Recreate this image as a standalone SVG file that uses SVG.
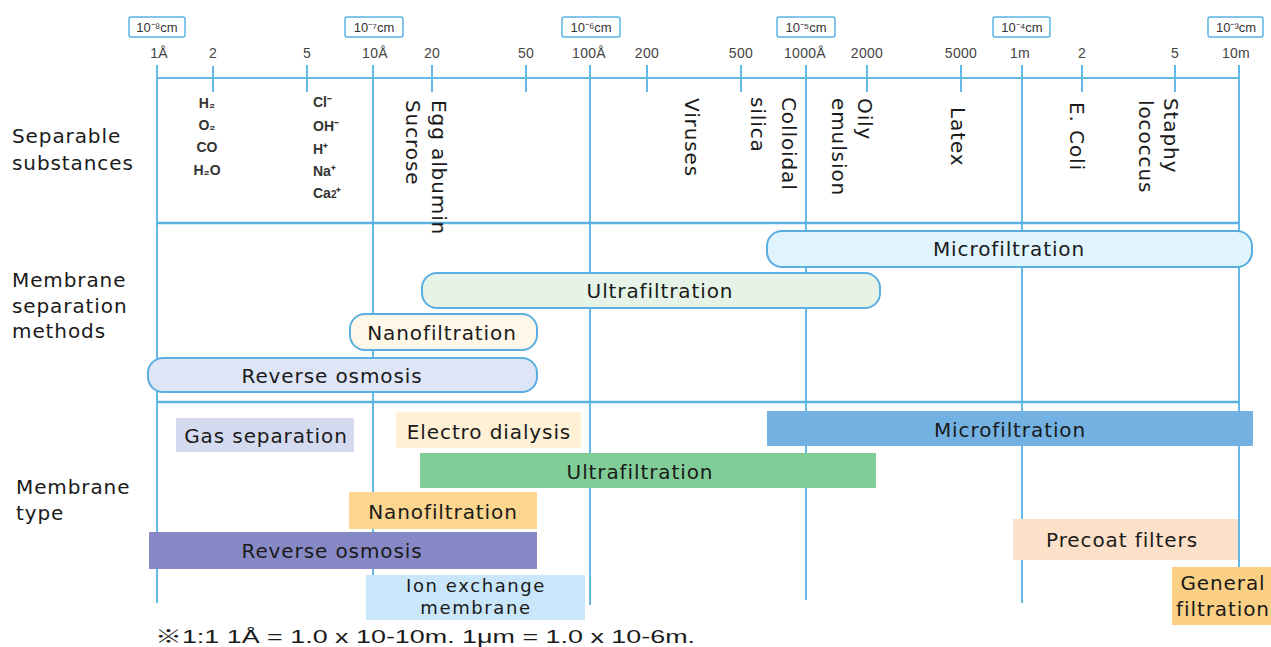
<svg xmlns="http://www.w3.org/2000/svg" width="1271" height="647" viewBox="0 0 1271 647">
<style>
.grid{stroke:#66b9e6;stroke-width:2;fill:none}
.sep{stroke:#5cb2e4;stroke-width:2.5;fill:none}
.tk{font-family:"Liberation Sans",Arial,sans-serif;font-size:14px;fill:#444;text-anchor:middle;letter-spacing:0.3px}
.ub{fill:#fff;stroke:#5ab4e6;stroke-width:1.5}
.ut{font-family:"Liberation Sans",Arial,sans-serif;font-size:13px;fill:#333;text-anchor:middle}
.lbl{font-family:"DejaVu Sans","Liberation Sans",sans-serif;font-size:20px;fill:#1a1a1a;letter-spacing:0.9px}
.c{text-anchor:middle}
.chem{font-family:"Liberation Sans",Arial,sans-serif;font-size:14px;font-weight:bold;fill:#333}
.mb{stroke:#5aaee2;stroke-width:2}
</style>
<rect width="1271" height="647" fill="#fff"/>

<g id="axis">
  <line class="grid" x1="157" y1="78" x2="1239" y2="78"/>
  <line class="grid" x1="157" y1="65" x2="157" y2="603"/>
  <line class="grid" x1="373" y1="65" x2="373" y2="600"/>
  <line class="grid" x1="590" y1="65" x2="590" y2="605"/>
  <line class="grid" x1="806" y1="65" x2="806" y2="600"/>
  <line class="grid" x1="1022" y1="65" x2="1022" y2="603"/>
  <line class="grid" x1="1239" y1="65" x2="1239" y2="567"/>
  <g class="grid">
    <line x1="213" y1="66" x2="213" y2="92"/>
    <line x1="307" y1="65" x2="307" y2="92"/>
    <line x1="432" y1="65" x2="432" y2="92"/>
    <line x1="526" y1="65" x2="526" y2="92"/>
    <line x1="647" y1="65" x2="647" y2="92"/>
    <line x1="741" y1="65" x2="741" y2="92"/>
    <line x1="867" y1="65" x2="867" y2="92"/>
    <line x1="961" y1="65" x2="961" y2="92"/>
    <line x1="1082" y1="65" x2="1082" y2="92"/>
    <line x1="1175" y1="65" x2="1175" y2="92"/>
  </g>
  <line class="sep" x1="157" y1="223" x2="1239" y2="223"/>
  <line class="sep" x1="157" y1="402" x2="1239" y2="402"/>
  <g>
    <text class="tk" x="159" y="58">1Å</text>
    <text class="tk" x="213" y="58">2</text>
    <text class="tk" x="307" y="58">5</text>
    <text class="tk" x="375" y="58">10Å</text>
    <text class="tk" x="432" y="58">20</text>
    <text class="tk" x="526" y="58">50</text>
    <text class="tk" x="589" y="58">100Å</text>
    <text class="tk" x="647" y="58">200</text>
    <text class="tk" x="741" y="58">500</text>
    <text class="tk" x="805" y="58">1000Å</text>
    <text class="tk" x="867" y="58">2000</text>
    <text class="tk" x="961" y="58">5000</text>
    <text class="tk" x="1020" y="58">1m</text>
    <text class="tk" x="1082" y="58">2</text>
    <text class="tk" x="1175" y="58">5</text>
    <text class="tk" x="1236" y="58">10m</text>
  </g>
  <g>
    <rect class="ub" x="129" y="17" width="56" height="20" rx="2"/>
    <text class="ut" x="157" y="32">10⁻⁸cm</text>
    <rect class="ub" x="345" y="17" width="58" height="20" rx="2"/>
    <text class="ut" x="374" y="32">10⁻⁷cm</text>
    <rect class="ub" x="562" y="17" width="58" height="20" rx="2"/>
    <text class="ut" x="591" y="32">10⁻⁶cm</text>
    <rect class="ub" x="777" y="17" width="58" height="20" rx="2"/>
    <text class="ut" x="806" y="32">10⁻⁵cm</text>
    <rect class="ub" x="993" y="17" width="57" height="20" rx="2"/>
    <text class="ut" x="1022" y="32">10⁻⁴cm</text>
    <rect class="ub" x="1208" y="17" width="55" height="20" rx="2"/>
    <text class="ut" x="1236" y="32">10⁻³cm</text>
  </g>
</g>

<g id="row-labels">
  <text class="lbl" x="12" y="143">Separable</text>
  <text class="lbl" x="12" y="170">substances</text>
  <text class="lbl" x="12" y="287">Membrane</text>
  <text class="lbl" x="12" y="313">separation</text>
  <text class="lbl" x="12" y="338">methods</text>
  <text class="lbl" x="16" y="494">Membrane</text>
  <text class="lbl" x="16" y="520">type</text>
</g>

<g id="substances">
  <g class="chem" text-anchor="middle">
    <text x="207" y="108">H₂</text>
    <text x="207" y="130">O₂</text>
    <text x="207" y="152">CO</text>
    <text x="207" y="175">H₂O</text>
  </g>
  <g class="chem">
    <text x="313" y="107">Cl⁻</text>
    <text x="313" y="131">OH⁻</text>
    <text x="313" y="154">H⁺</text>
    <text x="313" y="176">Na⁺</text>
    <text x="313" y="198">Ca<tspan font-size="10px">2</tspan>⁺</text>
  </g>
  <text class="lbl" transform="translate(432,100) rotate(90)">Egg albumin</text>
  <text class="lbl" transform="translate(406,100) rotate(90)">Sucrose</text>
  <text class="lbl" transform="translate(685,98) rotate(90)">Viruses</text>
  <text class="lbl" transform="translate(782,97) rotate(90)">Colloidal</text>
  <text class="lbl" transform="translate(751,97) rotate(90)">silica</text>
  <text class="lbl" transform="translate(858,98) rotate(90)">Oily</text>
  <text class="lbl" transform="translate(832,98) rotate(90)">emulsion</text>
  <text class="lbl" transform="translate(951,107) rotate(90)">Latex</text>
  <text class="lbl" transform="translate(1070,102) rotate(90)">E. Coli</text>
  <text class="lbl" transform="translate(1164,98) rotate(90)">Staphy</text>
  <text class="lbl" transform="translate(1139,100) rotate(90)">lococcus</text>
</g>

<g id="methods">
  <g id="m-micro"><rect class="mb" x="767" y="231" width="485" height="36" rx="15" fill="#dff4fd"/><text class="lbl c" x="1009" y="256">Microfiltration</text></g>
  <g id="m-ultra"><rect class="mb" x="422" y="273" width="458" height="35" rx="15" fill="#e5f4e6"/><text class="lbl c" x="660" y="298">Ultrafiltration</text></g>
  <g id="m-nano"><rect class="mb" x="350" y="314" width="187" height="36" rx="15" fill="#fff8e8"/><text class="lbl c" x="442" y="340">Nanofiltration</text></g>
  <g id="m-ro"><rect class="mb" x="148" y="358" width="389" height="34" rx="15" fill="#dde5f6"/><text class="lbl c" x="332" y="383">Reverse osmosis</text></g>
</g>

<g id="types">
  <g id="t-gas"><rect x="176" y="418" width="178" height="34" fill="#d4daf0"/><text class="lbl c" x="266" y="443">Gas separation</text></g>
  <g id="t-ed"><rect x="396" y="412" width="185" height="36" fill="#fff0d6"/><text class="lbl c" x="489" y="439">Electro dialysis</text></g>
  <g id="t-micro"><rect x="767" y="411" width="486" height="35" fill="#72b1e2"/><text class="lbl c" x="1010" y="437">Microfiltration</text></g>
  <g id="t-ultra"><rect x="420" y="453" width="456" height="35" fill="#80cd97"/><text class="lbl c" x="640" y="479">Ultrafiltration</text></g>
  <g id="t-nano"><rect x="349" y="492" width="188" height="37" fill="#fcd58e"/><text class="lbl c" x="443" y="519">Nanofiltration</text></g>
  <g id="t-ro"><rect x="149" y="532" width="388" height="37" fill="#8689c5"/><text class="lbl c" x="332" y="558">Reverse osmosis</text></g>
  <g id="t-ion"><rect x="366" y="575" width="219" height="45" fill="#c9e6fb"/><text class="lbl c" x="476" y="592" style="font-size:18px;letter-spacing:1.6px">Ion exchange</text><text class="lbl c" x="476" y="614" style="font-size:18px;letter-spacing:1.6px">membrane</text></g>
  <g id="t-precoat"><rect x="1013" y="519" width="225" height="41" fill="#fde0c9"/><text class="lbl c" x="1122" y="547">Precoat filters</text></g>
  <g id="t-general"><rect x="1172" y="567" width="99" height="58" fill="#fbd085"/><text class="lbl c" x="1223" y="590">General</text><text class="lbl c" x="1223" y="616">filtration</text></g>
</g>

<g id="connectors"></g>

<text x="155" y="643" font-family="Liberation Sans,Noto Sans CJK JP,sans-serif" font-size="18" fill="#1a1a1a" textLength="540" lengthAdjust="spacingAndGlyphs">※1:1 1Å = 1.0 x 10-10m. 1μm = 1.0 x 10-6m.</text>
</svg>
